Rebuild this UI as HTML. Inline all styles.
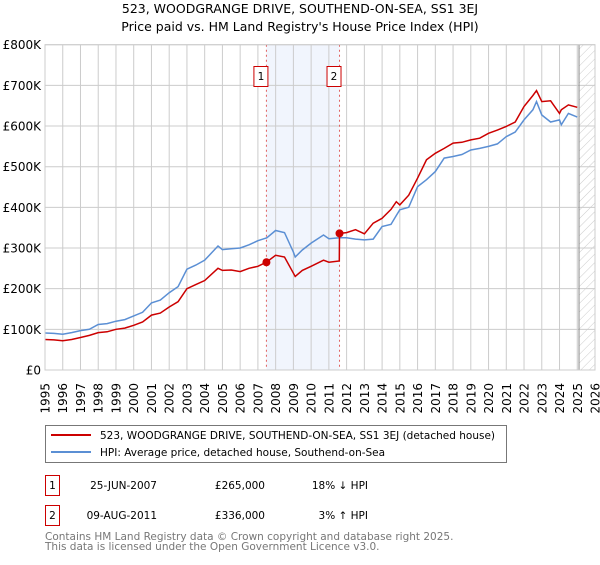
<!DOCTYPE html>
<html><head><meta charset="utf-8">
<style>
html,body{margin:0;padding:0;background:#fff;}
body{width:600px;height:560px;overflow:hidden;font-family:"Liberation Sans","DejaVu Sans",sans-serif;}
svg text{font-family:"DejaVu Sans","Liberation Sans",sans-serif;}
</style></head>
<body>
<svg id="chart" width="600" height="560" viewBox="0 0 600 560" xmlns="http://www.w3.org/2000/svg">
<defs>
<pattern id="hatch" patternUnits="userSpaceOnUse" width="6" height="6" patternTransform="rotate(45)">
<line x1="0" y1="0" x2="0" y2="6" stroke="#ccc" stroke-width="1"/>
</pattern>
<clipPath id="plotclip"><rect x="45" y="44" width="550" height="327"/></clipPath>
</defs>
<text x="300" y="13" text-anchor="middle" font-size="12.5" fill="#000">523, WOODGRANGE DRIVE, SOUTHEND-ON-SEA, SS1 3EJ</text>
<text x="300" y="31" text-anchor="middle" font-size="12.5" fill="#000">Price paid vs. HM Land Registry's House Price Index (HPI)</text>
<g id="grid"></g>
<g id="marks" clip-path="url(#plotclip)"></g>
<g id="axes"></g>

<g>
<rect x="45.5" y="425.5" width="461" height="37" fill="#fff" stroke="#777"/>
<line x1="51" y1="435" x2="91" y2="435" stroke="#cc0000" stroke-width="2"/>
<text x="100" y="439" font-size="10.5">523, WOODGRANGE DRIVE, SOUTHEND-ON-SEA, SS1 3EJ (detached house)</text>
<line x1="51" y1="452" x2="91" y2="452" stroke="#5b8fd4" stroke-width="2"/>
<text x="100" y="456" font-size="10.5">HPI: Average price, detached house, Southend-on-Sea</text>
</g>

<g font-size="10.5">
<rect x="45.5" y="475.5" width="14" height="20" fill="#fff" stroke="#cc0000"/>
<text x="52.5" y="489" text-anchor="middle">1</text>
<text x="157" y="489" text-anchor="end">25-JUN-2007</text>
<text x="265" y="489" text-anchor="end">£265,000</text>
<text x="368" y="489" text-anchor="end">18% ↓ HPI</text>
</g>
<g font-size="10.5">
<rect x="45.5" y="505.5" width="14" height="20" fill="#fff" stroke="#cc0000"/>
<text x="52.5" y="519" text-anchor="middle">2</text>
<text x="157" y="519" text-anchor="end">09-AUG-2011</text>
<text x="265" y="519" text-anchor="end">£336,000</text>
<text x="368" y="519" text-anchor="end">3% ↑ HPI</text>
</g>
<text x="45" y="540" font-size="10.5" fill="#777">Contains HM Land Registry data © Crown copyright and database right 2025.</text>
<text x="45" y="550" font-size="10.5" fill="#777">This data is licensed under the Open Government Licence v3.0.</text>
</svg>
<script>
const yTicks=[0,100,200,300,400,500,600,700,800];
const yTickLabels=["£0","£100K","£200K","£300K","£400K","£500K","£600K","£700K","£800K"];
const xYears=[1995,1996,1997,1998,1999,2000,2001,2002,2003,2004,2005,2006,2007,2008,2009,2010,2011,2012,2013,2014,2015,2016,2017,2018,2019,2020,2021,2022,2023,2024,2025,2026];
const hpiDates=[1995,1995.5,1996,1996.5,1997,1997.5,1998,1998.5,1999,1999.5,2000,2000.5,2001,2001.5,2002,2002.5,2003,2003.5,2004,2004.75,2005,2005.5,2006,2006.5,2007,2007.5,2008,2008.5,2009,2009.1,2009.5,2010,2010.7,2011,2011.6,2012,2012.5,2013,2013.5,2014,2014.5,2014.8,2015,2015.5,2016,2016.5,2017,2017.5,2018,2018.5,2019,2019.5,2020,2020.5,2021,2021.5,2022,2022.5,2022.7,2023,2023.5,2024,2024.1,2024.5,2025];
const hpiValues=[91,90,88,92,97,100,112,114,120,124,133,142,165,172,190,205,248,258,270,305,296,298,300,308,318,325,343,338,290,278,295,312,332,323,325,325,322,320,322,353,358,380,394,400,451,468,488,521,525,530,541,545,550,556,574,585,615,640,660,627,610,615,603,631,622];
const priceDates=[1995,1995.5,1996,1996.5,1997,1997.5,1998,1998.5,1999,1999.5,2000,2000.5,2001,2001.5,2002,2002.5,2003,2003.5,2004,2004.75,2005,2005.5,2006,2006.5,2007,2007.48,2008,2008.5,2009,2009.1,2009.5,2010,2010.7,2011,2011.59,2011.6,2012,2012.5,2013,2013.5,2014,2014.5,2014.8,2015,2015.5,2016,2016.5,2017,2017.5,2018,2018.5,2019,2019.5,2020,2020.5,2021,2021.5,2022,2022.5,2022.7,2023,2023.5,2024,2024.1,2024.5,2025];
const priceValues=[75,74,72,75,80,85,92,94,100,103,110,118,135,140,155,168,200,210,220,250,245,246,242,250,255,265,282,278,238,230,245,255,270,265,268,336,338,345,335,361,373,395,414,406,430,472,517,533,545,558,560,566,570,582,590,599,610,648,675,687,660,662,631,640,652,646];
const sales=[{d:2007.48,v:265,label:"1"},{d:2011.6,v:336,label:"2"}];

const X0=45,X1=595,Y0=370,Y1=44.7;
function xs(t){return X0+(t-1995)/(2026-1995)*(X1-X0);}
function ys(v){return Y0-v/800*(Y0-Y1);}
const NS="http://www.w3.org/2000/svg";
function mk(tag,attrs,parent){const e=document.createElementNS(NS,tag);for(const k in attrs)e.setAttribute(k,attrs[k]);parent.appendChild(e);return e;}
const grid=document.getElementById('grid'),marks=document.getElementById('marks'),axes=document.getElementById('axes');

// shaded band between sales
const band=mk('rect',{x:xs(sales[0].d),y:Y1,width:xs(sales[1].d)-xs(sales[0].d),height:Y0-Y1,fill:'#eef3fc',opacity:0.8},grid);


// hatched future
const hatch=mk('rect',{x:xs(2025.1),y:Y1,width:X1-xs(2025.1),height:Y0-Y1,fill:'url(#hatch)'},grid);



yTicks.forEach((v,i)=>{
  const l=mk('line',{x1:X0,x2:X1,y1:ys(v),y2:ys(v),stroke:'#ccc','stroke-width':1},grid);
  
  
  const t=mk('text',{x:X0-4,y:ys(v)+4.5,'text-anchor':'end','font-size':'12'},axes);
  
  
  t.textContent=yTickLabels[i];
});
xYears.forEach(yr=>{
  const l=mk('line',{x1:xs(yr),x2:xs(yr),y1:Y1,y2:Y0,stroke:'#ccc','stroke-width':1},grid);
  
  
  const t=mk('text',{transform:`translate(${xs(yr)+4.5},383) rotate(-90)`,'text-anchor':'end','font-size':'12'},axes);
  
  
  t.textContent=yr;
});
const cur=mk('line',{x1:xs(2025.1),x2:xs(2025.1),y1:Y1,y2:Y0,stroke:'#888','stroke-width':1},grid);



sales.forEach(s=>{
  const l=mk('line',{x1:xs(s.d),x2:xs(s.d),y1:Y1,y2:Y0,stroke:'#e06060','stroke-width':1,'stroke-dasharray':'2,3'},marks);
  
  
  const b=mk('rect',{x:xs(s.d)-12.5,y:66.5,width:14,height:20,fill:'#fff',stroke:'#cc0000'},axes);
  
  
  const t=mk('text',{x:xs(s.d)-5.5,y:80,'text-anchor':'middle','font-size':'10.5'},axes);
  
  
  t.textContent=s.label;
});

function pathOf(ds,vs){return ds.map((d,i)=>(i?'L':'M')+xs(d).toFixed(1)+','+ys(vs[i]).toFixed(1)).join(' ');}
const hpi=mk('path',{d:pathOf(hpiDates,hpiValues),fill:'none',stroke:'#5b8fd4','stroke-width':1.5},marks);


const pr=mk('path',{d:pathOf(priceDates,priceValues),fill:'none',stroke:'#cc0000','stroke-width':1.5},marks);


sales.forEach(s=>{
  const c=mk('circle',{cx:xs(s.d),cy:ys(s.v),r:4,fill:'#cc0000'},marks);
  
  
});
const frame=mk('rect',{x:X0,y:Y1,width:X1-X0,height:Y0-Y1,fill:'none',stroke:'#ccc'},axes);


</script>
</body></html>
